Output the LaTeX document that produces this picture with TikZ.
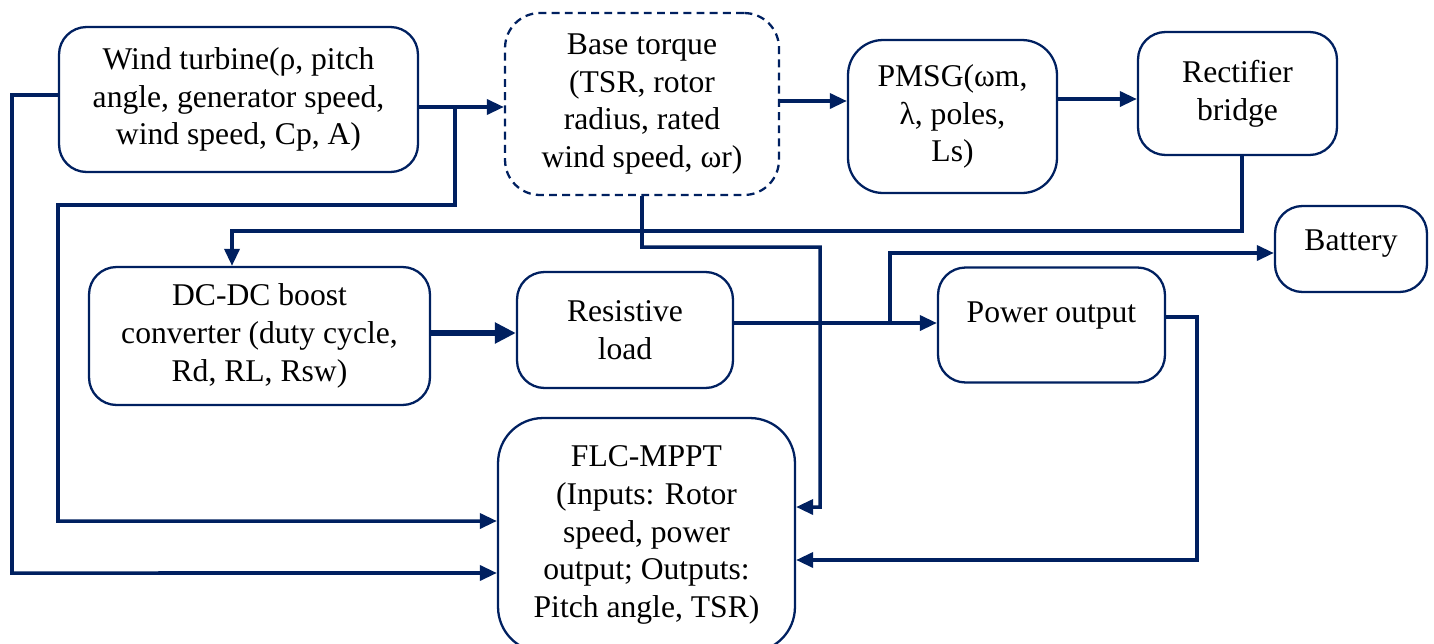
\documentclass[tikz,border=0pt]{standalone}
\usepackage{fontspec}
\setmainfont{Liberation Serif}
\usetikzlibrary{arrows.meta}
\definecolor{navy}{HTML}{002060}

\begin{document}
\begin{tikzpicture}[x=0.02cm, y=-0.02cm,
  blk/.style={draw=navy, line width=1.3pt, rounded corners=0.55cm, align=center,
    inner sep=0pt, font=\fontsize{18}{21.5}\selectfont},
  arr/.style={navy, line width=2pt, -{Triangle[length=0.34cm, width=0.3cm]}},
  fat/.style={navy, line width=3pt, -{Triangle[length=0.42cm, width=0.4cm]}}]
  \useasboundingbox (0,0) rectangle (1434,643);
  % Top row
  \node[blk, minimum width=7.18cm, minimum height=2.9cm] (turbine) at (238.5,99.5)
    {Wind turbine(ρ, pitch\\angle, generator speed,\\wind speed, Cp, A)};
  \node[blk, dash pattern=on 4.5pt off 3pt, rounded corners=0.7cm, minimum width=5.48cm, minimum height=3.64cm] (torque) at (642,104)
    {Base torque\\(TSR, rotor\\radius, rated\\wind speed, ωr)};
  \node[blk, rounded corners=0.7cm, minimum width=4.18cm, minimum height=3.06cm] (pmsg) at (952.5,116.5)
    {PMSG(ωm,\\λ, poles,\\Ls)};
  \node[blk, minimum width=3.98cm, minimum height=2.46cm] (rect) at (1237.5,93.5)
    {Rectifier\\bridge};
  \node[blk, text depth=0.36cm, minimum width=3.04cm, minimum height=1.72cm] (battery) at (1351,249)
    {Battery};
  % Middle row
  \node[blk, minimum width=6.82cm, minimum height=2.76cm] (boost) at (259.5,336)
    {DC-DC boost\\converter (duty cycle,\\Rd, RL, Rsw)};
  \node[blk, minimum width=4.32cm, minimum height=2.32cm] (load) at (625,330)
    {Resistive\\load};
  \node[blk, text depth=0.5cm, minimum width=4.54cm, minimum height=2.3cm] (power) at (1051.5,325)
    {Power output};
  % Controller
  \node[blk, rounded corners=0.9cm, minimum width=5.94cm, minimum height=4.68cm] (flc) at (646.5,535)
    {FLC-MPPT\\(Inputs: Rotor\\speed, power\\output; Outputs:\\Pitch angle, TSR)};
  % Power path
  \draw[arr] ([yshift=-0.15cm]turbine.east) -- ([yshift=-0.15cm]turbine.east -| torque.west);
  \draw[arr] ([yshift=0.06cm]torque.east) -- ([yshift=0.06cm]torque.east -| pmsg.west);
  \draw[arr] ([yshift=0.35cm]pmsg.east) -- ([yshift=0.35cm]pmsg.east -| rect.west);
  \draw[arr] ([xshift=0.09cm]rect.south) -- ++(0,75) -| ([xshift=-0.55cm]boost.north);
  \draw[fat] ([yshift=0.06cm]boost.east) -- ([yshift=0.06cm]boost.east -| load.west);
  \draw[arr] ([yshift=0.14cm]load.east) -- ([yshift=0.14cm]load.east -| power.west);
  \coordinate (tap2) at (890,323);
  \draw[arr] (tap2) |- ([yshift=-0.08cm]battery.west);
  % Feedback to controller
  \coordinate (tap1) at (455,107);
  \draw[arr] (tap1) -- (455,205) -- (58,205) -- (58,521) -- ([yshift=0.28cm]flc.west);
  \draw[arr] ([yshift=0.09cm]turbine.west) -| (12,573) -- ([yshift=-0.76cm]flc.west);
  \draw[arr] (torque.south) -- ++(0,51) -| (820,507) -- ([yshift=0.56cm]flc.east);
  \draw[arr] ([yshift=0.16cm]power.east) -- ++(31,0) |- ([yshift=-0.5cm]flc.east);
\end{tikzpicture}
\end{document}
